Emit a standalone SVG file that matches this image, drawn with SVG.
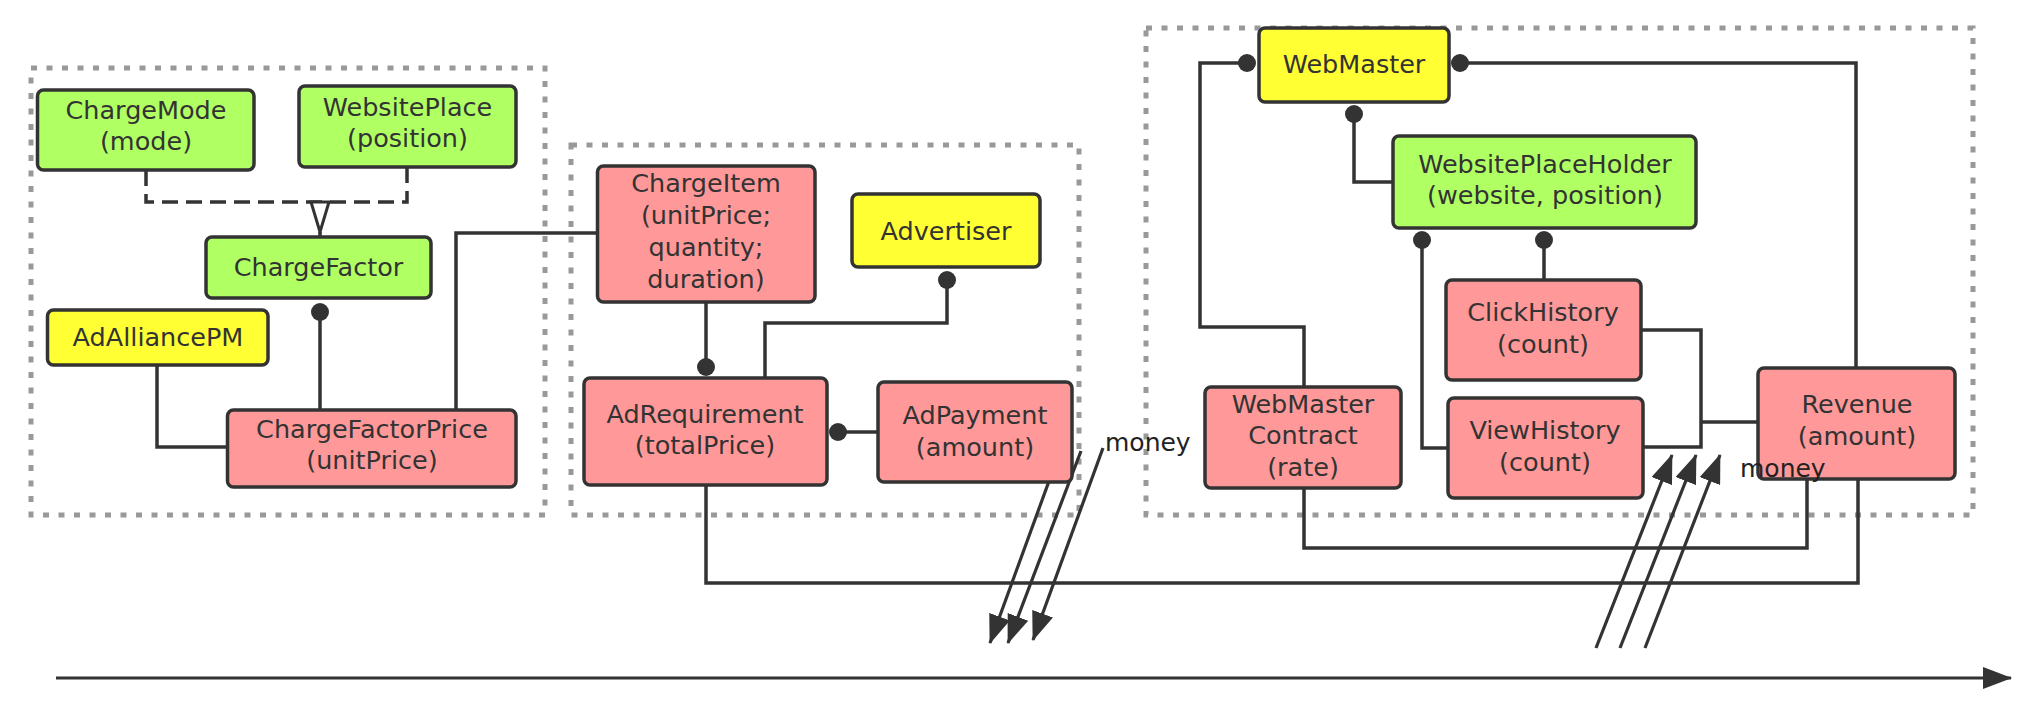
<svg xmlns="http://www.w3.org/2000/svg" width="2034" height="714" viewBox="0 0 2034 714">
<style>
.zone{fill:none;stroke:#999;stroke-width:5;stroke-dasharray:6 9.5}
.box{stroke:#333;stroke-width:3.5}
.g{fill:#b0ff63}.y{fill:#ffff33}.p{fill:#ff9898}
text{font-family:"DejaVu Sans","Liberation Sans",sans-serif;font-size:25.5px;fill:#333;text-anchor:middle}
.money{text-anchor:start;font-size:25px;fill:#222}
.c{fill:none;stroke:#333;stroke-width:3.5}
.dash{stroke-dasharray:16 8}
.dot{fill:#333}
.flow{fill:none;stroke:#333;stroke-width:3.2}
</style>
<defs>
<marker id="arr" markerUnits="userSpaceOnUse" markerWidth="29" markerHeight="22" refX="28" refY="11" orient="auto" viewBox="0 0 29 22">
<path d="M0,0 L29,11 L0,22 z" fill="#333"/>
</marker>
</defs>

<rect class="zone" x="31" y="68" width="514" height="447"/>
<rect class="zone" x="571" y="145" width="508" height="370"/>
<rect class="zone" x="1146" y="28" width="827" height="487"/>

<g id="connectors">
<path class="c dash" d="M146,170 V202 H407 V167"/>
<path d="M311,202 L329,202 L320,232 z" fill="#fff" stroke="#333" stroke-width="3"/>
<path class="c" d="M320,232 V237"/>
<path class="c" d="M320,312 V410"/><circle class="dot" cx="320" cy="312" r="9"/>
<path class="c" d="M157,365 V447 H227"/>
<path class="c" d="M456,410 V233 H597"/>
<path class="c" d="M706,302 V367"/><circle class="dot" cx="706" cy="367" r="9"/>
<path class="c" d="M947,280 V323 H765 V378"/><circle class="dot" cx="947" cy="280" r="9"/>
<path class="c" d="M838,432 H878"/><circle class="dot" cx="838" cy="432" r="9"/>
<path class="c" d="M706,485 V583 H1858 V479"/>
<path class="c" d="M1304,488 V548 H1807 V479"/>
<path class="c" d="M1247,63 H1200 V327 H1304 V387"/><circle class="dot" cx="1247" cy="63" r="9"/>
<path class="c" d="M1460,63 H1856 V368"/><circle class="dot" cx="1460" cy="63" r="9"/>
<path class="c" d="M1354,114 V182 H1393"/><circle class="dot" cx="1354" cy="114" r="9"/>
<path class="c" d="M1422,240 V448 H1448"/><circle class="dot" cx="1422" cy="240" r="9"/>
<path class="c" d="M1544,240 V280"/><circle class="dot" cx="1544" cy="240" r="9"/>
<path class="c" d="M1641,330 H1701 V447 H1643"/>
<path class="c" d="M1701,422 H1758"/>
<line class="flow" x1="1060" y1="451" x2="990" y2="643" marker-end="url(#arr)"/>
<line class="flow" x1="1081" y1="451" x2="1008" y2="643" marker-end="url(#arr)"/>
<line class="flow" x1="1103" y1="448" x2="1033" y2="640" marker-end="url(#arr)"/>
<line class="flow" x1="1596" y1="648" x2="1672" y2="455" marker-end="url(#arr)"/>
<line class="flow" x1="1620" y1="648" x2="1696" y2="455" marker-end="url(#arr)"/>
<line class="flow" x1="1645" y1="648" x2="1720" y2="455" marker-end="url(#arr)"/>
<line class="flow" x1="56" y1="678" x2="2011" y2="678" marker-end="url(#arr)"/>
</g>

<g id="ChargeMode"><rect class="box g" x="37.5" y="90" width="216.5" height="80" rx="6"/><text x="146" y="119">ChargeMode</text><text x="146" y="150">(mode)</text></g>
<g id="WebsitePlace"><rect class="box g" x="299" y="86" width="217" height="81" rx="6"/><text x="407.5" y="116">WebsitePlace</text><text x="407.5" y="147">(position)</text></g>
<g id="ChargeFactor"><rect class="box g" x="206" y="237" width="225" height="61" rx="6"/><text x="318.5" y="276">ChargeFactor</text></g>
<g id="AdAlliancePM"><rect class="box y" x="47.5" y="310" width="220.5" height="55" rx="6"/><text x="158" y="346">AdAlliancePM</text></g>
<g id="ChargeFactorPrice"><rect class="box p" x="227.5" y="410" width="288.5" height="77" rx="6"/><text x="372" y="438">ChargeFactorPrice</text><text x="372" y="469">(unitPrice)</text></g>
<g id="ChargeItem"><rect class="box p" x="597.5" y="166" width="217.5" height="136" rx="6"/><text x="706" y="192">ChargeItem</text><text x="706" y="224">(unitPrice;</text><text x="706" y="256">quantity;</text><text x="706" y="288">duration)</text></g>
<g id="Advertiser"><rect class="box y" x="852" y="194" width="188" height="73" rx="6"/><text x="946" y="240">Advertiser</text></g>
<g id="AdRequirement"><rect class="box p" x="584" y="378" width="243" height="107" rx="6"/><text x="705" y="423">AdRequirement</text><text x="705" y="454">(totalPrice)</text></g>
<g id="AdPayment"><rect class="box p" x="878" y="382" width="194" height="100" rx="6"/><text x="975" y="424">AdPayment</text><text x="975" y="456">(amount)</text></g>
<g id="WebMaster"><rect class="box y" x="1259" y="28" width="190" height="74" rx="6"/><text x="1354" y="73">WebMaster</text></g>
<g id="WebsitePlaceHolder"><rect class="box g" x="1393" y="136" width="303" height="92" rx="6"/><text x="1545" y="173">WebsitePlaceHolder</text><text x="1545" y="204">(website, position)</text></g>
<g id="WebMasterContract"><rect class="box p" x="1205" y="387" width="196" height="101" rx="6"/><text x="1303" y="413">WebMaster</text><text x="1303" y="444">Contract</text><text x="1303" y="476">(rate)</text></g>
<g id="ClickHistory"><rect class="box p" x="1446" y="280" width="195" height="100" rx="6"/><text x="1543" y="321">ClickHistory</text><text x="1543" y="353">(count)</text></g>
<g id="ViewHistory"><rect class="box p" x="1448" y="398" width="195" height="100" rx="6"/><text x="1545" y="439">ViewHistory</text><text x="1545" y="471">(count)</text></g>
<g id="Revenue"><rect class="box p" x="1758" y="368" width="197" height="111" rx="6"/><text x="1857" y="413">Revenue</text><text x="1857" y="445">(amount)</text></g>

<text class="money" x="1105" y="451">money</text>
<text class="money" x="1740" y="477">money</text>
</svg>
